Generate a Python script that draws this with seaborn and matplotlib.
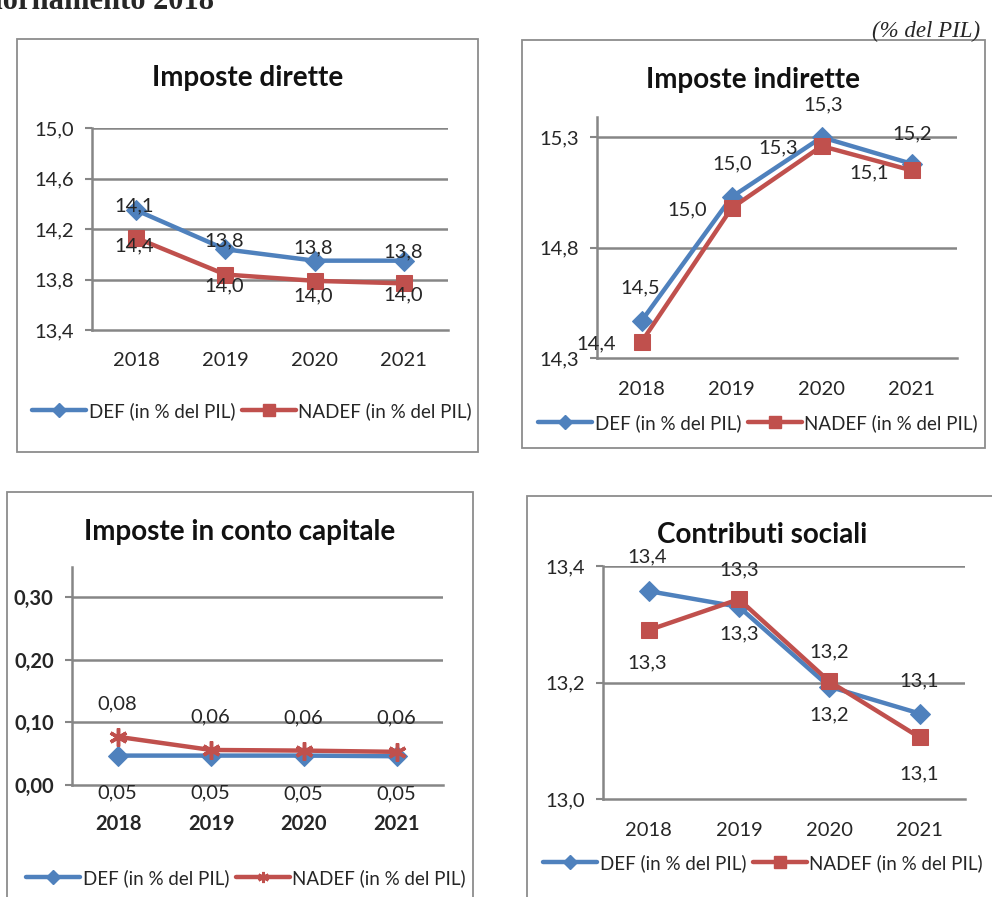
import matplotlib
matplotlib.use("Agg")
import matplotlib.pyplot as plt
import seaborn as sns
from matplotlib.lines import Line2D
from matplotlib.patches import Rectangle

# dati (in % del PIL)
anni = ["2018", "2019", "2020", "2021"]
serie = ["DEF (in % del PIL)", "NADEF (in % del PIL)"]

dirette_def = [14.35, 14.04, 13.95, 13.95]
dirette_nadef = [14.13, 13.84, 13.79, 13.77]
dirette_lab_def = ["14,1", "13,8", "13,8", "13,8"]
dirette_lab_nadef = ["14,4", "14,0", "14,0", "14,0"]
dirette_yticks = [13.4, 13.8, 14.2, 14.6, 15.0]
dirette_ylabels = ["13,4", "13,8", "14,2", "14,6", "15,0"]

indirette_def = [14.47, 15.03, 15.30, 15.18]
indirette_nadef = [14.375, 14.98, 15.26, 15.15]
indirette_lab_def = ["14,5", "15,0", "15,3", "15,2"]
indirette_lab_nadef = ["14,4", "15,0", "15,3", "15,1"]
indirette_yticks = [14.3, 14.8, 15.3]
indirette_ylabels = ["14,3", "14,8", "15,3"]

capitale_def = [0.047, 0.047, 0.047, 0.046]
capitale_nadef = [0.077, 0.056, 0.055, 0.053]
capitale_lab_def = ["0,05", "0,05", "0,05", "0,05"]
capitale_lab_nadef = ["0,08", "0,06", "0,06", "0,06"]
capitale_yticks = [0.0, 0.1, 0.2, 0.3]
capitale_ylabels = ["0,00", "0,10", "0,20", "0,30"]

contributi_def = [13.357, 13.33, 13.193, 13.147]
contributi_nadef = [13.29, 13.343, 13.202, 13.106]
contributi_lab_def = ["13,4", "13,3", "13,2", "13,1"]
contributi_lab_nadef = ["13,3", "13,3", "13,2", "13,1"]
contributi_yticks = [13.0, 13.2, 13.4]
contributi_ylabels = ["13,0", "13,2", "13,4"]

BLUE = "#4F81BD"
RED = "#C0504D"
GRID = "#868686"
TXT = "#262626"
W, H = 992, 897
FS = 14.5

sns.set_theme(style="white")
plt.rcParams["font.family"] = ["Lato", "DejaVu Sans"]

fig = plt.figure(figsize=(W / 100, H / 100), dpi=100)


def px_rect(l, t, r, b):
    return [l / W, 1 - b / H, (r - l) / W, (b - t) / H]


def box(l, t, r, b):
    fig.add_artist(Rectangle((l / W, 1 - b / H), (r - l) / W, (b - t) / H,
                             transform=fig.transFigure, fill=False,
                             edgecolor="#8c8c8c", lw=1.3))


def pannello(rect, titolo, tpos, v_def, v_nadef, l_def, l_nadef, off_def, off_nadef,
             yticks, ylabels, ylim, leg_pos, nadef_marker="s", bold_ticks=False, xpad=16):
    ax = fig.add_axes(px_rect(*rect))
    x = list(range(len(anni)))
    sns.lineplot(x=x, y=v_def, ax=ax, color=BLUE, lw=3.2, marker="D", markersize=10,
                 markeredgecolor=BLUE, zorder=3)
    if nadef_marker == "s":
        sns.lineplot(x=x, y=v_nadef, ax=ax, color=RED, lw=3.2, marker="s", markersize=12,
                     markeredgecolor=RED, zorder=4)
    else:
        sns.lineplot(x=x, y=v_nadef, ax=ax, color=RED, lw=3.2, marker=(6, 2, 0), markersize=13,
                     markeredgecolor=RED, markeredgewidth=2.5, zorder=4)
    for i in x:
        ax.annotate(l_def[i], (i, v_def[i]), xytext=off_def[i], textcoords="offset pixels",
                    ha="center", va="center", fontsize=FS, color=TXT, zorder=5)
        ax.annotate(l_nadef[i], (i, v_nadef[i]), xytext=off_nadef[i], textcoords="offset pixels",
                    ha="center", va="center", fontsize=FS, color=TXT, zorder=5)
    ax.set_xlim(-0.5, len(anni) - 0.5)
    ax.set_ylim(*ylim)
    ax.set_xticks(x)
    ax.set_xticklabels(anni, fontsize=FS, color=TXT, fontweight="bold" if bold_ticks else "normal")
    ax.set_xticks([i - 0.5 for i in range(len(anni) + 1)], minor=True)
    ax.tick_params(axis="x", which="major", length=0, pad=xpad)
    ax.tick_params(axis="x", which="minor", length=5, width=1.5, color=GRID, direction="out")
    ax.set_yticks(yticks)
    ax.set_yticklabels(ylabels, fontsize=FS, color=TXT, fontweight="bold" if bold_ticks else "normal")
    ax.tick_params(axis="y", length=5, width=1.5, color=GRID, direction="out", pad=8, left=True)
    for yv in yticks[1:]:
        ax.axhline(yv, color=GRID, lw=1.8, zorder=1)
    for s in ["top", "right"]:
        ax.spines[s].set_visible(False)
    for s in ["left", "bottom"]:
        ax.spines[s].set_color(GRID)
        ax.spines[s].set_linewidth(1.8)
    ax.set_xlabel("")
    ax.set_ylabel("")
    if ax.get_legend():
        ax.get_legend().remove()
    fig.text(tpos[0] / W, 1 - tpos[1] / H, titolo, ha="center", va="center",
             fontsize=20, fontweight="bold", color="#111111")
    handles = [
        Line2D([], [], color=BLUE, lw=3.2, marker="D", markersize=7),
        Line2D([], [], color=RED, lw=3.2, marker=nadef_marker if nadef_marker == "s" else (6, 2, 0),
               markersize=8, markeredgewidth=2 if nadef_marker != "s" else 1),
    ]
    ax.legend(handles, serie, loc="center", bbox_to_anchor=(leg_pos[0] / W, 1 - leg_pos[1] / H),
              bbox_transform=fig.transFigure, ncol=2, frameon=False, fontsize=13.5,
              handlelength=2.9, handletextpad=0.12, columnspacing=0.35, labelcolor=TXT,
              borderpad=0.1, borderaxespad=0)
    return ax


box(17, 39, 478, 452)
box(522, 40, 985, 448)
box(7, 492, 473, 910)
box(527, 496, 1005, 910)

pannello((91.7, 128.3, 448.3, 330), "Imposte dirette", (248, 78),
         dirette_def, dirette_nadef, dirette_lab_def, dirette_lab_nadef,
         [(-2, 4), (-1, 8), (-1, 13), (-1, 9)], [(-2, -8), (-1, -11), (-1, -15), (-1, -12)],
         dirette_yticks, dirette_ylabels, (13.4, 15.0), (252, 411))

pannello((596.7, 116.7, 956.7, 358.3), "Imposte indirette", (753, 80),
         indirette_def, indirette_nadef, indirette_lab_def, indirette_lab_nadef,
         [(-2, 33), (0, 33), (1, 32), (0, 30)], [(-46, -2), (-45, -2), (-44, -2), (-43, -2)],
         indirette_yticks, indirette_ylabels, (14.3, 15.393), (758, 423))

pannello((71.7, 566.7, 443.3, 785), "Imposte in conto capitale", (240, 532),
         capitale_def, capitale_nadef, capitale_lab_def, capitale_lab_nadef,
         [(-1, -37), (-1, -37), (-1, -38), (-1, -38)], [(-1, 33), (-1, 33), (-1, 33), (-1, 34)],
         capitale_yticks, capitale_ylabels, (0.0, 0.349), (246, 878), nadef_marker="*",
         bold_ticks=True, xpad=21)

pannello((603.3, 566, 965, 799.3), "Contributi sociali", (762, 535),
         contributi_def, contributi_nadef, contributi_lab_def, contributi_lab_nadef,
         [(-1, 34), (0, -27), (0, -28), (-1, 33)], [(-1, -33), (0, 29), (0, 30), (-1, -36)],
         contributi_yticks, contributi_ylabels, (13.0, 13.4), (763, 863))

# intestazioni della pagina (la prima e' tagliata in alto come nell'originale)
fig.text(214 / W, 1 - 9 / H, "Aggiornamento 2018", ha="right", va="baseline",
         fontsize=22, fontweight="bold", family="Liberation Serif")
fig.text(980 / W, 1 - 31 / H, "(% del PIL)", ha="right", va="center",
         fontsize=16.5, fontstyle="italic", family="Liberation Serif")

fig.savefig("out.png", dpi=100, facecolor="white")
